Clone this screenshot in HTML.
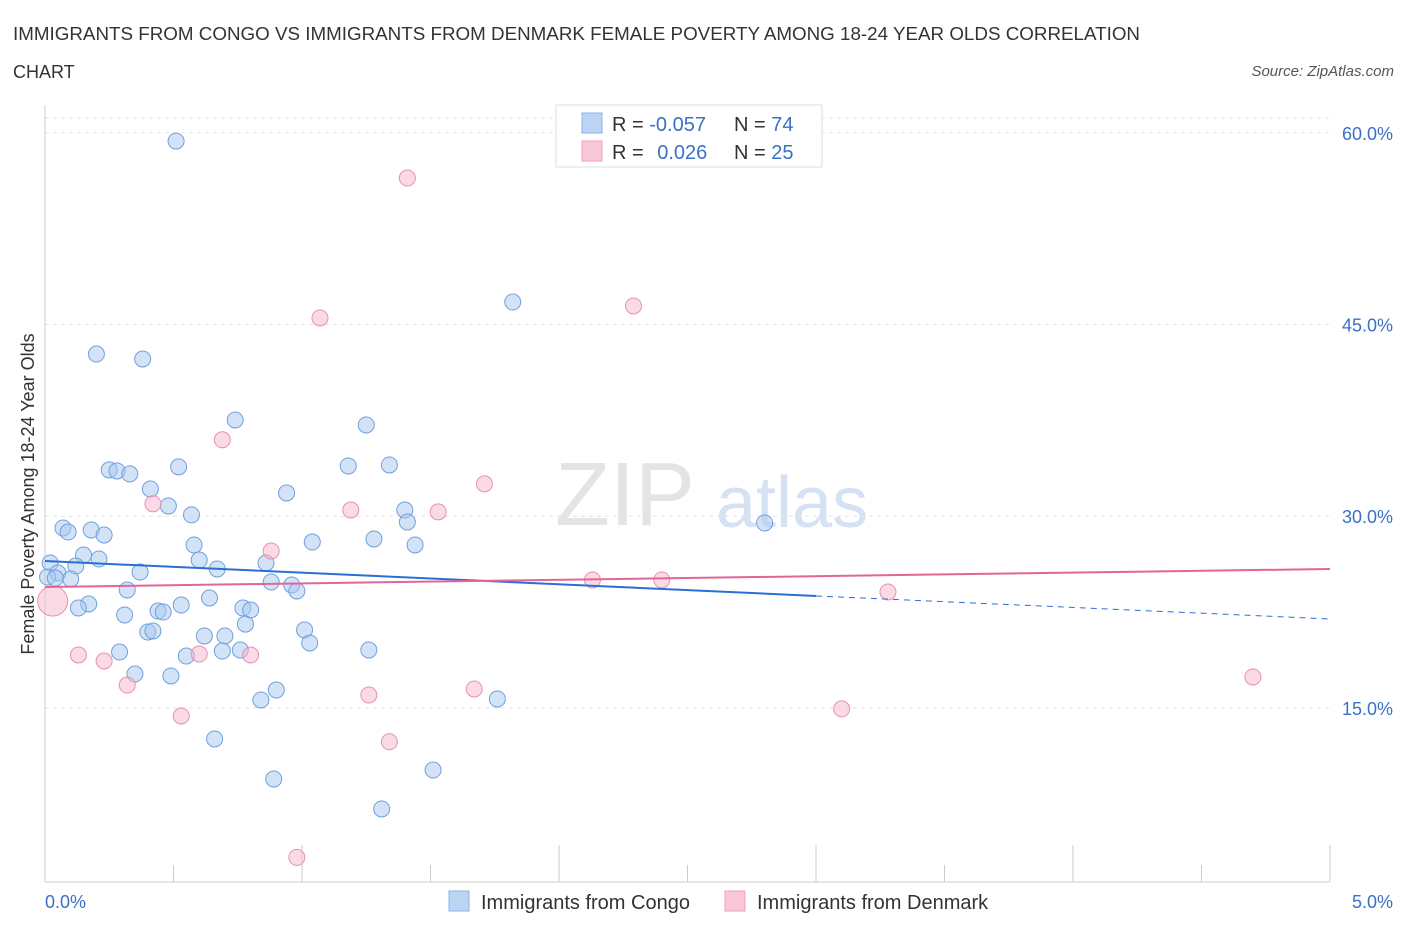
<!DOCTYPE html>
<html><head><meta charset="utf-8"><style>
body{margin:0;background:#fff;font-family:"Liberation Sans",sans-serif;}
svg text{font-family:"Liberation Sans",sans-serif;}
</style></head><body>
<svg id="chart" width="1406" height="930" xmlns="http://www.w3.org/2000/svg">
<text x="13" y="40" font-size="18" fill="#333" textLength="1127" lengthAdjust="spacingAndGlyphs">IMMIGRANTS FROM CONGO VS IMMIGRANTS FROM DENMARK FEMALE POVERTY AMONG 18-24 YEAR OLDS CORRELATION</text>
<text x="13" y="78" font-size="18" fill="#333">CHART</text>
<text x="1394" y="76" font-size="15" fill="#555" font-style="italic" text-anchor="end">Source: ZipAtlas.com</text>
<text x="555" y="525" font-size="90" fill="#e4e4e4" font-family="Liberation Serif">ZIP</text>
<text x="716" y="527" font-size="72" fill="#d4e2f4">atlas</text>
<g id="grid"></g>
<line x1="45" y1="105" x2="45" y2="882" stroke="#ccc"/>
<line x1="45" y1="882" x2="1330" y2="882" stroke="#ccc"/>
<g id="xticks"></g>
<text transform="translate(34,494) rotate(-90)" font-size="18" fill="#333" text-anchor="middle">Female Poverty Among 18-24 Year Olds</text>
<text x="45" y="908" font-size="18" fill="#3a70c8">0.0%</text>
<text x="1393" y="908" font-size="18" fill="#3a70c8" text-anchor="end">5.0%</text>
<g id="pts"></g>
<g id="lines"></g>
<g>
<rect x="556" y="105" width="266" height="62" fill="#fff" stroke="#ddd"/>
<rect x="582" y="113" width="20" height="20" fill="#bcd5f5" stroke="#8ab4e8"/>
<rect x="582" y="141" width="20" height="20" fill="#f9c8d6" stroke="#eca2bb"/>
<text x="612" y="131" font-size="20" fill="#333">R = <tspan fill="#3a70c8">-0.057</tspan></text>
<text x="734" y="131" font-size="20" fill="#333">N = <tspan fill="#3a70c8">74</tspan></text>
<text x="612" y="159" font-size="20" fill="#333">R = <tspan fill="#3a70c8" dx="8">0.026</tspan></text>
<text x="734" y="159" font-size="20" fill="#333">N = <tspan fill="#3a70c8">25</tspan></text>
</g>
<g>
<rect x="449" y="891" width="20" height="20" fill="#bcd5f5" stroke="#8ab4e8"/>
<text x="481" y="909" font-size="20" fill="#333">Immigrants from Congo</text>
<rect x="725" y="891" width="20" height="20" fill="#f9c8d6" stroke="#eca2bb"/>
<text x="757" y="909" font-size="20" fill="#333">Immigrants from Denmark</text>
</g>
</svg>
<script>
const yTicks=[15,30,45,60];
const yTickLabels=["15.0%","30.0%","45.0%","60.0%"];
const congoX=[0.51,1.82,0.20,0.38,0.74,1.25,0.52,1.18,1.34,0.25,0.28,0.33,0.41,0.94,0.48,1.40,0.57,1.41,2.80,0.07,0.09,0.18,0.23,1.28,1.04,0.58,1.44,0.15,0.21,0.02,0.60,0.12,0.86,0.67,0.05,0.37,0.01,0.10,0.04,0.88,0.96,0.98,0.32,0.64,0.17,0.53,0.13,0.77,0.80,0.44,0.46,0.31,0.78,1.01,0.40,0.42,0.62,0.70,1.03,0.29,1.26,0.76,0.69,0.55,0.35,0.49,0.90,0.84,1.76,0.66,1.51,0.89,1.31];
const congoY=[59.35,46.76,42.69,42.30,37.53,37.14,33.86,33.93,34.01,33.62,33.54,33.31,32.13,31.82,30.80,30.49,30.10,29.55,29.47,29.08,28.76,28.92,28.53,28.22,27.98,27.75,27.75,26.96,26.65,26.34,26.57,26.10,26.34,25.87,25.56,25.63,25.24,25.09,25.16,24.85,24.62,24.15,24.23,23.60,23.13,23.05,22.82,22.82,22.66,22.58,22.50,22.27,21.56,21.10,20.94,21.02,20.63,20.63,20.08,19.37,19.53,19.53,19.45,19.06,17.65,17.50,16.40,15.62,15.70,12.57,10.14,9.44,7.09];
const denX=[1.41,2.29,1.07,0.69,1.71,0.42,1.19,1.53,0.88,2.13,2.40,3.28,0.03,0.13,0.23,0.60,0.80,0.32,1.26,1.67,0.53,3.10,4.70,1.34,0.98];
const denY=[56.46,46.45,45.51,35.98,32.53,30.97,30.49,30.34,27.28,25.01,25.01,24.07,23.36,19.14,18.67,19.22,19.14,16.79,16.01,16.48,14.37,14.92,17.42,12.35,3.30];
const congoTrend=[26.49,23.76,21.96];
const denTrend=[24.46,25.87];
const X=v=>45+v*257, Y=v=>899.6-v*12.78;
const NS="http://www.w3.org/2000/svg";
function mk(tag,attrs,parent){const e=document.createElementNS(NS,tag);for(const k in attrs)e.setAttribute(k,attrs[k]);document.getElementById(parent).appendChild(e);return e;}
yTicks.forEach((t,i)=>{
 const g=mk('line',{x1:45,x2:1330,y1:Y(t),y2:Y(t),stroke:'#e2e2e2','stroke-dasharray':'4,4'},'grid');
 
 
 const tx=mk('text',{x:1393,y:Y(t)+7,'font-size':18,fill:'#3a70c8','text-anchor':'end'},'grid');
 tx.textContent=yTickLabels[i];
 
 
});
const gtop=mk('line',{x1:45,x2:1330,y1:118,y2:118,stroke:'#e2e2e2','stroke-dasharray':'4,4'},'grid');


for(let i=0;i<=10;i++){
 const t=mk('line',{x1:X(i*0.5),x2:X(i*0.5),y1:882,y2:i%2?865:845,stroke:'#ccc'},'xticks');
 
 
}
congoX.forEach((x,i)=>{
 const c=mk('circle',{cx:X(x),cy:Y(congoY[i]),r:8,fill:'rgba(168,200,240,0.5)',stroke:'#6fa0dc','stroke-width':1},'pts');
 
 
});
denX.forEach((x,i)=>{
 const c=mk('circle',{cx:X(x),cy:Y(denY[i]),r:i===12?15:8,fill:'rgba(245,184,204,0.5)',stroke:'#e890b0','stroke-width':1},'pts');
 
 
});
const l1=mk('line',{x1:X(0),y1:Y(congoTrend[0]),x2:X(3),y2:Y(congoTrend[1]),stroke:'#2a6fd6','stroke-width':2},'lines');


const l2=mk('line',{x1:X(3),y1:Y(congoTrend[1]),x2:X(5),y2:Y(congoTrend[2]),stroke:'#2a6fd6','stroke-width':1,'stroke-dasharray':'6,5'},'lines');


const l3=mk('line',{x1:X(0),y1:Y(denTrend[0]),x2:X(5),y2:Y(denTrend[1]),stroke:'#e0669a','stroke-width':2},'lines');


</script>
</body></html>
